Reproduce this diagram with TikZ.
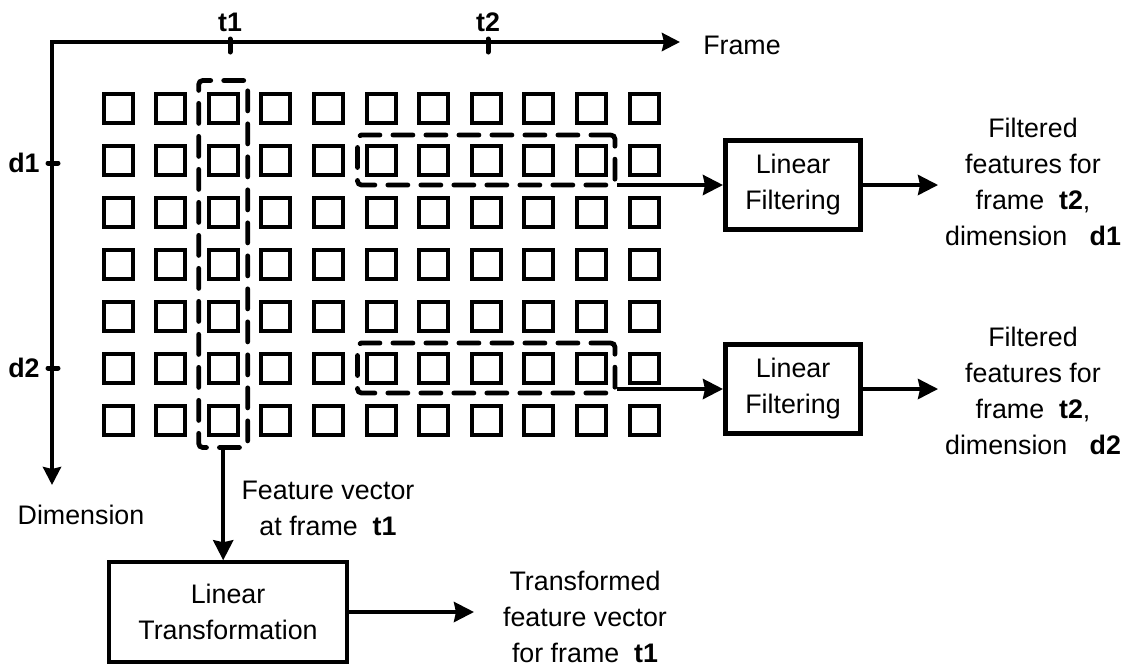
\documentclass[tikz,border=0pt]{standalone}
\usepackage{fontspec}
\setmainfont{Liberation Sans}
\usetikzlibrary{positioning, arrows.meta, fit, calc}

\begin{document}
\begin{tikzpicture}[
    x=0.5pt, y=-0.5pt,
    every node/.style={font=\fontsize{13.4}{18}\selectfont},
    cell/.style={
        draw,
        line width=2pt,
        minimum size=14.5pt,
        inner sep=0pt
    },
    selbox/.style={
        draw,
        line width=2.4pt,
        dash pattern=on 10pt off 6.5pt,
        line cap=round,
        rounded corners=2pt
    },
    procbox/.style={
        draw,
        line width=2.5pt,
        align=center,
        minimum width=67.5pt,
        minimum height=44.5pt
    },
    axisline/.style={
        line width=2pt,
        >={Stealth[length=9pt, width=9pt, inset=1pt]}
    },
    axistick/.style={
        line width=2.5pt,
        line cap=round
    },
    arr/.style={
        ->,
        line width=2pt,
        >={Stealth[length=10pt, width=10pt, inset=1pt]}
    },
    lbl/.style={
        align=center
    }
]
    \useasboundingbox (0,0) rectangle (1122,666);

    % Axes
    \coordinate (origin) at (52,42);
    \coordinate (frameEnd) at (680,42);
    \coordinate (dimEnd) at (52,485);
    \draw[axisline, <->] (frameEnd) -- (origin) -- (dimEnd);

    \node (frameLbl) at (742,45) {Frame};
    \node (dimLbl) at (81,515) {Dimension};

    % Ticks on the axes
    \coordinate (tickT1) at (230,42);
    \coordinate (tickT2) at (488,42);
    \coordinate (tickD1) at (52,163);
    \coordinate (tickD2) at (52,368);
    \draw[axistick] ($(tickT1)+(0,-3)$) -- ($(tickT1)+(0,10)$);
    \draw[axistick] ($(tickT2)+(0,-3)$) -- ($(tickT2)+(0,10)$);
    \draw[axistick] ($(tickD1)+(-4,0)$) -- ($(tickD1)+(6,0)$);
    \draw[axistick] ($(tickD2)+(-4,0)$) -- ($(tickD2)+(6,0)$);

    \node (lblT1) at (230,22) {\textbf{t1}};
    \node (lblT2) at (488,22) {\textbf{t2}};
    \node (lblD1) at (24,163) {\textbf{d1}};
    \node (lblD2) at (24,368) {\textbf{d2}};

    % Grid of features
    \foreach \c in {1,...,11}
        \foreach \r in {1,...,7}
            \node[cell] (cell\c-\r) at ({118+52.6*(\c-1)},{108+52*(\r-1)}) {};

    % Dashed selections
    \node[selbox, fit=(cell3-1)(cell3-7), inner xsep=4pt, inner ysep=5.5pt] (colSel) {};
    \node[selbox, fit=(cell6-2)(cell10-2), inner xsep=3.5pt, inner ysep=4.25pt] (rowSelA) {};
    \node[selbox, fit=(cell6-6)(cell10-6), inner xsep=3.5pt, inner ysep=4.25pt] (rowSelB) {};

    % Processing blocks
    \node[procbox] (filterA) at (793,185) {Linear\\Filtering};
    \node[procbox] (filterB) at (793,389) {Linear\\Filtering};
    \node[procbox, line width=1.75pt, minimum width=119pt, minimum height=50pt] (transform) at (228,612) {Linear\\Transformation};

    % Texts
    \node[lbl] (outA) at (1033,182) {Filtered\\features for\\frame~ \textbf{t2},\\dimension~~ \textbf{d1}};
    \node[lbl] (outB) at (1033,391) {Filtered\\features for\\frame~ \textbf{t2},\\dimension~~ \textbf{d2}};
    \node[lbl] (featLbl) at (328,508) {Feature vector\\at frame~ \textbf{t1}};
    \node[lbl] (transLbl) at (585,617) {Transformed\\feature vector\\for frame~ \textbf{t1}};

    % Connectors
    \draw[arr] (colSel.south) -- (colSel.south |- transform.north);
    \draw[arr] (rowSelA.east |- filterA.west) -- (filterA.west);
    \draw[arr] (rowSelB.east |- filterB.west) -- (filterB.west);
    \draw[arr] (filterA.east) -- (filterA.east -| outA.west);
    \draw[arr] (filterB.east) -- (filterB.east -| outB.west);
    \draw[arr, shorten >=11pt] (transform.east) -- (transform.east -| transLbl.west);

\end{tikzpicture}
\end{document}
